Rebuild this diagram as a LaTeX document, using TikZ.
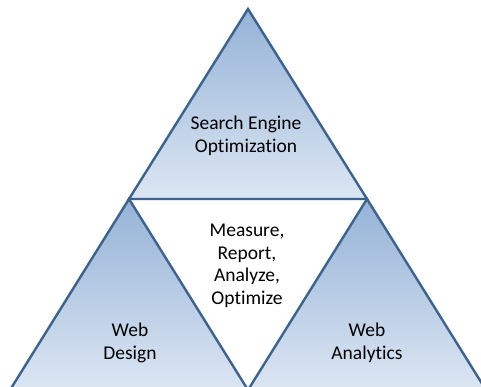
\documentclass[tikz,border=0pt]{standalone}
\usepackage{fontspec}
\setmainfont[Ligatures=NoCommon]{Carlito}
\usetikzlibrary{positioning}

\definecolor{triTop}{RGB}{149,179,215}
\definecolor{triBottom}{RGB}{220,230,243}
\definecolor{triEdge}{RGB}{60,98,142}

\tikzset{tri/.style={draw=triEdge, line width=2.4pt, line join=miter,
		top color=triTop, bottom color=triBottom},
	txt/.style={align=center, font=\fontsize{19.5}{22.5}\selectfont, text=black}}

\begin{document}
\begin{tikzpicture}[x=1pt, y=-1pt]
\useasboundingbox (0,0) rectangle (481,387);
\clip (0,0) rectangle (481,387);

% corners of the three triangles
\coordinate (apex) at (248,9);
\coordinate (left) at (129,199);
\coordinate (right) at (367,199);
\coordinate (base l) at (10,390);
\coordinate (base m) at (248,390);
\coordinate (base r) at (486,390);

\path[tri] (apex) -- (right) -- (left) -- cycle;
\path[tri] (left) -- (base m) -- (base l) -- cycle;
\path[tri] (right) -- (base r) -- (base m) -- cycle;

\node[txt] (seo) at (246,136) {Search Engine\\Optimization};
\node[txt] (measure) at (247,266) {Measure,\\Report,\\Analyze,\\Optimize};
\node[txt] (design) at (130,343) {Web\\Design};
\node[txt] (analytics) at (367,343) {Web\\Analytics};
\end{tikzpicture}
\end{document}
